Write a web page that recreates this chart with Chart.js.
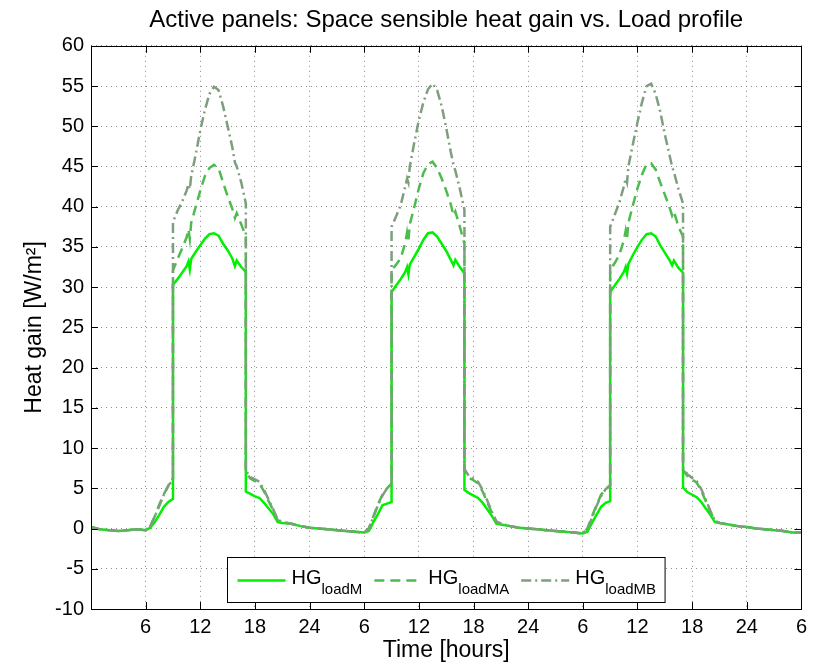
<!DOCTYPE html>
<html>
<head>
<meta charset="utf-8">
<script src="https://cdn.jsdelivr.net/npm/chart.js@4.4.1/dist/chart.umd.min.js"></script>
<style>
  html, body { margin: 0; padding: 0; background: #fff; }
  #wrap { width: 813px; height: 664px; }
</style>
</head>
<body>
<div id="wrap"><canvas id="myChart" width="813" height="664"></canvas></div>
<script>
// time in hours (repeated value = vertical step)
var hours = [
  0,1,2,3,4,5,6,6.5,7,7.5,8,8.5,9,9,9.5,10,10.5,10.7,10.85,11,11.5,12,12.5,13,13.5,14,14.5,15,15.5,15.8,16,16.5,17,17,17.5,18,18.5,19,19.5,20,20.5,21,22,23,
  24,25,26,27,28,29,30,30.5,31,31.5,32,32.5,33,33,33.5,34,34.5,34.7,34.85,35,35.5,36,36.5,37,37.5,38,38.5,39,39.5,39.8,40,40.5,41,41,41.5,42,42.5,43,43.5,44,44.5,45,46,47,
  48,49,50,51,52,53,54,54.5,55,55.5,56,56.5,57,57,57.5,58,58.5,58.7,58.85,59,59.5,60,60.5,61,61.5,62,62.5,63,63.5,63.8,64,64.5,65,65,65.5,66,66.5,67,67.5,68,68.5,69,70,71,
  72,73,74,75,76,77,78
];

var hgLoadM = [
  0.2,-0.1,-0.2,-0.3,-0.2,-0.1,-0.2,0.1,0.8,1.7,2.7,3.3,3.7,30.3,31.0,31.8,32.6,33.2,32.2,33.5,34.4,35.2,36.0,36.6,36.7,36.4,35.4,34.6,33.6,32.6,33.3,32.5,31.9,4.6,4.3,4.0,3.8,3.2,2.5,1.8,0.8,0.7,0.6,0.3,
  0.1,0.0,-0.1,-0.2,-0.3,-0.4,-0.5,-0.3,0.8,1.8,2.9,3.1,3.3,29.4,30.2,31.0,31.9,32.5,31.6,32.8,33.8,34.8,35.9,36.7,36.8,36.3,35.4,34.5,33.4,32.7,33.4,32.5,31.7,4.8,4.4,4.1,3.8,3.2,2.4,1.6,0.6,0.5,0.3,0.1,
  0.0,-0.1,-0.2,-0.3,-0.4,-0.5,-0.6,-0.4,0.7,1.7,2.7,3.2,3.4,29.4,30.2,31.0,31.9,32.5,31.7,32.9,34.0,35.0,35.9,36.6,36.7,36.3,35.2,34.3,33.4,32.7,33.3,32.4,31.8,5.1,4.5,4.2,3.9,3.3,2.5,1.7,0.8,0.7,0.5,0.3,
  0.2,0.0,-0.1,-0.2,-0.3,-0.5,-0.5
];

var hgLoadMA = [
  0.2,-0.1,-0.2,-0.3,-0.2,-0.1,-0.2,0.3,1.5,3.0,4.3,5.3,6.2,32.1,33.5,34.8,36.2,37.2,36.0,38.0,40.0,42.0,43.8,44.8,45.2,44.8,43.0,41.3,39.8,38.6,39.2,37.8,36.3,7.0,6.2,5.9,5.6,4.6,3.4,2.3,1.0,0.8,0.6,0.3,
  0.1,0.0,-0.1,-0.2,-0.3,-0.4,-0.5,0.0,1.5,3.0,4.2,5.0,5.6,32.1,32.8,33.6,35.5,36.8,35.8,37.8,40.0,42.3,44.2,45.3,45.6,44.8,43.5,42.0,40.3,38.9,39.4,37.5,35.4,7.2,6.3,6.0,5.6,4.6,3.3,2.0,0.8,0.6,0.3,0.1,
  0.0,-0.1,-0.2,-0.3,-0.4,-0.5,-0.6,0.0,1.5,2.9,4.2,4.9,5.4,32.1,33.0,34.0,35.8,37.0,36.0,38.0,40.2,42.3,44.0,45.3,45.4,44.6,43.0,41.5,40.0,38.9,39.4,37.5,36.3,7.3,6.5,6.1,5.7,4.7,3.4,2.1,0.9,0.7,0.5,0.3,
  0.2,0.0,-0.1,-0.2,-0.3,-0.5,-0.5
];

var hgLoadMB = [
  0.2,-0.1,-0.2,-0.3,-0.2,-0.1,-0.2,0.3,1.5,2.8,4.2,5.4,6.0,38.1,39.5,40.6,42.0,42.8,42.2,43.8,46.5,49.5,52.0,54.0,54.9,54.5,52.5,50.0,47.5,45.5,45.0,43.0,40.4,7.2,6.4,6.1,5.8,4.8,3.6,2.4,1.1,0.8,0.6,0.3,
  0.1,0.0,-0.1,-0.2,-0.3,-0.4,-0.5,0.0,1.4,2.9,4.1,5.0,5.5,37.5,38.8,40.2,42.5,43.5,43.0,45.0,48.0,50.8,53.0,54.6,55.3,54.5,52.5,49.8,46.8,45.2,44.5,42.2,39.6,7.4,6.5,6.2,5.8,4.8,3.5,2.1,0.9,0.6,0.3,0.1,
  0.0,-0.1,-0.2,-0.3,-0.4,-0.5,-0.6,0.0,1.3,2.8,4.0,4.9,5.3,37.5,39.0,40.5,42.5,43.5,43.0,45.0,47.8,50.5,53.0,55.0,55.3,54.0,51.8,49.0,46.5,45.0,44.3,42.2,40.4,7.6,6.7,6.3,5.9,4.9,3.6,2.2,1.0,0.7,0.5,0.3,
  0.2,0.0,-0.1,-0.2,-0.3,-0.5,-0.5
];

var seriesNames = ['loadM', 'loadMA', 'loadMB'];
var seriesColors = ['#00f000', '#4dbb4d', '#7e9e7e'];
var seriesDash = [[], [10, 6], [10, 4, 2, 4]];

var FONT = '"Liberation Sans", Arial, Helvetica, sans-serif';

function toPoints(vals) {
  var pts = [];
  for (var i = 0; i < vals.length; i++) pts.push({x: hours[i], y: vals[i]});
  return pts;
}

var allSeries = [hgLoadM, hgLoadMA, hgLoadMB];
var datasets = [];
for (var s = 0; s < allSeries.length; s++) {
  datasets.push({
    label: 'HG' + seriesNames[s],
    data: toPoints(allSeries[s]),
    borderColor: seriesColors[s],
    borderWidth: 2.5,
    borderDash: seriesDash[s],
    pointRadius: 0,
    tension: 0,
    fill: false,
    order: 2 - s
  });
}

// box, inward ticks and legend with subscripts
var matlabPlugin = {
  id: 'matlabBox',
  afterDraw: function(chart) {
    var ctx = chart.ctx;
    var a = chart.chartArea;
    var xs = chart.scales.x, ys = chart.scales.y;
    ctx.save();
    ctx.strokeStyle = '#000';
    ctx.lineWidth = 1;
    ctx.setLineDash([]);
    ctx.beginPath();
    xs.ticks.forEach(function(t) {
      var px = Math.round(xs.getPixelForValue(t.value)) + 0.5;
      ctx.moveTo(px, a.bottom); ctx.lineTo(px, a.bottom - 7);
      ctx.moveTo(px, a.top); ctx.lineTo(px, a.top + 7);
    });
    ys.ticks.forEach(function(t) {
      var py = Math.round(ys.getPixelForValue(t.value)) + 0.5;
      ctx.moveTo(a.left, py); ctx.lineTo(a.left + 7, py);
      ctx.moveTo(a.right, py); ctx.lineTo(a.right - 7, py);
    });
    ctx.stroke();
    ctx.strokeRect(Math.round(a.left) + 0.5, Math.round(a.top) + 0.5,
                   Math.round(a.right - a.left), Math.round(a.bottom - a.top));

    // legend
    var big = '20px ' + FONT, small = '15px ' + FONT;
    var sampleLen = 48, gapText = 6, gapItem = 12, padL = 10, padR = 9;
    var widths = [];
    var total = padL + padR;
    for (var i = 0; i < seriesNames.length; i++) {
      ctx.font = big; var w1 = ctx.measureText('HG').width;
      ctx.font = small; var w2 = ctx.measureText(seriesNames[i]).width;
      widths.push([w1, w2]);
      total += sampleLen + gapText + w1 + w2 + (i < seriesNames.length - 1 ? gapItem : 0);
    }
    var bh = 45;
    var bx = Math.round((a.left + a.right) / 2 - total / 2) + 0.5;
    var by = Math.round(a.bottom - 7 - bh) + 0.5;
    ctx.fillStyle = '#fff';
    ctx.fillRect(bx, by, total, bh);
    ctx.strokeStyle = '#000';
    ctx.strokeRect(bx, by, total, bh);
    var cx = bx + padL;
    var ly = by + 23;
    for (var j = 0; j < seriesNames.length; j++) {
      ctx.strokeStyle = seriesColors[j];
      ctx.lineWidth = 2.5;
      ctx.setLineDash(seriesDash[j]);
      ctx.beginPath();
      ctx.moveTo(cx, ly); ctx.lineTo(cx + sampleLen, ly);
      ctx.stroke();
      ctx.setLineDash([]);
      cx += sampleLen + gapText;
      ctx.fillStyle = '#000';
      ctx.textBaseline = 'alphabetic';
      ctx.textAlign = 'left';
      ctx.font = big;
      ctx.fillText('HG', cx, ly + 3);
      cx += widths[j][0];
      ctx.font = small;
      ctx.fillText(seriesNames[j], cx, ly + 13);
      cx += widths[j][1] + gapItem;
    }
    ctx.restore();
  }
};

var ctx = document.getElementById('myChart').getContext('2d');
var myChart = new Chart(ctx, {
  type: 'line',
  data: { datasets: datasets },
  plugins: [matlabPlugin],
  options: {
    responsive: false,
    animation: false,
    layout: { padding: { left: 0, right: 8, top: 0, bottom: 0 } },
    plugins: {
      legend: { display: false },
      tooltip: { enabled: false },
      title: {
        display: true,
        fullSize: false,
        text: 'Active panels: Space sensible heat gain vs. Load profile',
        color: '#000',
        font: { family: FONT, size: 24, weight: 'normal' },
        padding: { top: 6, bottom: 11 }
      }
    },
    scales: {
      x: {
        type: 'linear',
        min: 0,
        max: 78,
        afterFit: function(scale) { scale.height = 55; },
        ticks: {
          stepSize: 6,
          color: '#000',
          padding: 6,
          maxRotation: 0,
          autoSkip: false,
          font: { family: FONT, size: 20 },
          callback: function(v) {
            if (v === 0) return '';
            return v % 24 === 0 ? '24' : String(v % 24);
          }
        },
        grid: { color: '#8a8a8a', lineWidth: 1, drawTicks: false },
        border: { display: false, dash: [1, 4] },
        title: {
          display: true,
          text: 'Time [hours]',
          color: '#000',
          font: { family: FONT, size: 23 },
          padding: { top: 0, bottom: 0 }
        }
      },
      y: {
        type: 'linear',
        min: -10,
        max: 60,
        afterFit: function(scale) { scale.width = 91; },
        ticks: {
          stepSize: 5,
          color: '#000',
          padding: 7,
          font: { family: FONT, size: 20 }
        },
        grid: { color: '#8a8a8a', lineWidth: 1, drawTicks: false },
        border: { display: false, dash: [1, 4] },
        title: {
          display: true,
          text: 'Heat gain [W/m\u00b2]',
          color: '#000',
          font: { family: FONT, size: 23 },
          padding: { top: 21, bottom: 0 }
        }
      }
    }
  }
});
</script>
</body>
</html>
